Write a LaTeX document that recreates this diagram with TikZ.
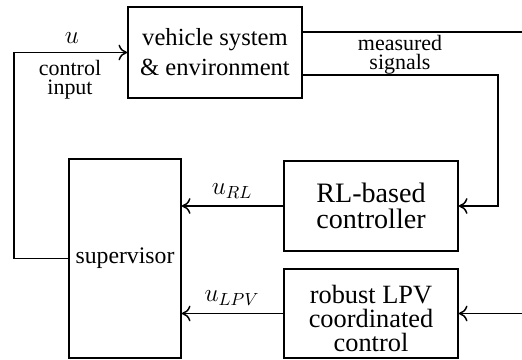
\documentclass[tikz,border=0pt]{standalone}
\usepackage{fontspec}
\setmainfont{Liberation Serif}
\usetikzlibrary{arrows.meta,calc,positioning}

\begin{document}
\begin{tikzpicture}[
  blk/.style={draw=black, line width=0.85pt, inner sep=0pt, align=center},
  arr/.style={-{To[length=5pt,width=9pt]}, line width=0.85pt},
  wire/.style={line width=0.85pt},
  lbl/.style={font=\fontsize{12.5}{11}\selectfont, align=center, inner sep=0pt},
  sym/.style={font=\fontsize{14}{16}\selectfont, inner sep=1pt},
]
\useasboundingbox (0,0) rectangle (10.44,7.2);

% ---- blocks ----
\node[blk, minimum width=3.48cm, minimum height=1.82cm,
      font=\fontsize{14}{17}\selectfont] (veh) at (4.30,6.15)
      {vehicle system\\\& environment};
\node[blk, minimum width=2.24cm, minimum height=3.98cm,
      font=\fontsize{13.5}{16}\selectfont] (sup) at (2.50,2.03) {supervisor};
\node[blk, minimum width=3.48cm, minimum height=1.80cm,
      font=\fontsize{16}{14.5}\selectfont] (rl) at (7.42,3.08)
      {RL-based\\controller};
\node[blk, minimum width=3.48cm, minimum height=1.78cm] (lpv) at (7.42,0.93) {};
\node[align=center, inner sep=0pt, font=\fontsize{15}{13.5}\selectfont]
      (lpvtxt) at ([yshift=-0.10cm]lpv.center) {robust LPV\\coordinated\\control};

% ---- helper points ----
\coordinate (lft)   at (0.28,0);
\coordinate (out1)  at (10.44,6.56);
\coordinate (turn)  at (9.96,5.70);
\coordinate (lpvin) at (10.44,0.93);

% ---- edges ----
\draw[arr] (sup.west) -- (sup.west -| lft) |- (veh.west);
\draw[wire] ([yshift=0.41cm]veh.east) -- (out1);
\draw[arr] ([yshift=-0.45cm]veh.east) -- (turn) |- (rl.east);
\draw[arr] (rl.west) -- (sup.east |- rl.west);
\draw[arr] (lpv.west) -- (sup.east |- lpv.west);
\draw[arr] (lpvin) -- (lpv.east);

% ---- labels ----
\node[sym] (ulbl) at (1.44,6.44) {$u$};
\node[lbl] (cin) at (1.40,5.60) {control\\input};
\node[lbl] (meas) at (8.00,6.10) {measured\\signals};
\node[sym] (url) at (4.64,3.38) {$u_{RL}$};
\node[sym] (ulpv) at (4.64,1.24) {$u_{LPV}$};
\end{tikzpicture}
\end{document}
